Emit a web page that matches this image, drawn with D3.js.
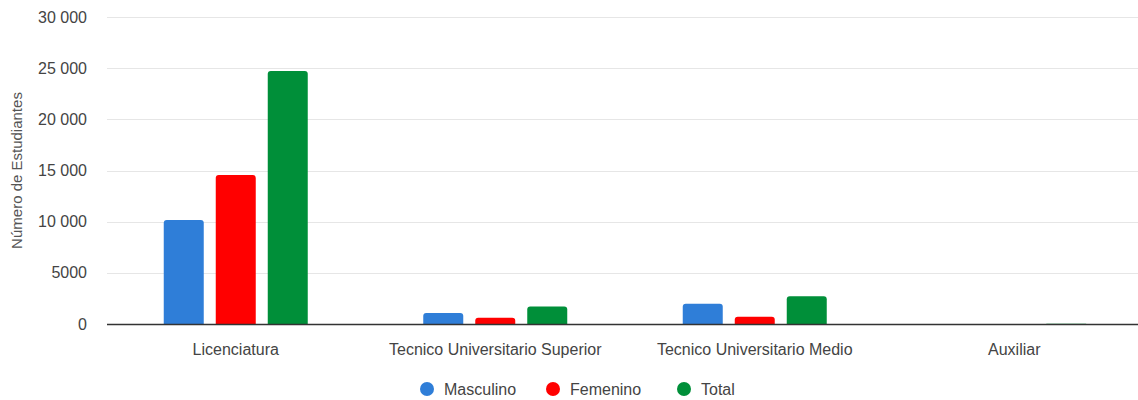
<!DOCTYPE html>
<html>
<head>
<meta charset="utf-8">
<script src="https://cdn.jsdelivr.net/npm/d3@7"></script>
<style>
  html, body { margin: 0; padding: 0; background: #fff; }
  svg { display: block; font-family: "Liberation Sans", Arial, sans-serif; }
</style>
</head>
<body>
<svg id="chart" width="1138" height="400"></svg>
<script>
const categories = ["Licenciatura", "Tecnico Universitario Superior", "Tecnico Universitario Medio", "Auxiliar"];
const seriesNames = ["Masculino", "Femenino", "Total"];
const masculino = [10160, 1080, 1980, 12];
const femenino = [14560, 600, 700, 6];
const total = [24720, 1700, 2720, 18];
const colors = ["#2f7ed8", "#ff0000", "#008f39"];
const yTicks = [0, 5000, 10000, 15000, 20000, 25000, 30000];
const yTitle = "Número de Estudiantes";

const seriesValues = [masculino, femenino, total];
const svg = d3.select("#chart");
const W = 1138, H = 400;
const plotLeft = 107, plotTop = 17, plotBottom = 324;

const x0 = d3.scaleBand().domain(categories).range([106, 1144]).padding(0);
const groupW = 144;
const x1 = d3.scaleBand().domain(seriesNames).range([0, groupW]).paddingInner(12 / 52).paddingOuter(0);
const y = d3.scaleLinear().domain([0, 30000]).range([plotBottom, plotTop]);

const fmt = v => v >= 10000 ? d3.format(",")(v).replace(/,/g, " ") : String(v);

// gridlines
svg.append("g")
  .selectAll("line")
  .data(yTicks.filter(t => t !== 0))
  .join("line")
  .attr("x1", plotLeft).attr("x2", W)
  .attr("y1", d => Math.round(y(d)) + 0.5).attr("y2", d => Math.round(y(d)) + 0.5)
  .attr("stroke", "#e6e6e6").attr("stroke-width", 1);

// y tick labels via axis
const yAxis = d3.axisLeft(y).tickValues(yTicks).tickFormat(fmt).tickSize(0).tickPadding(20);
const yg = svg.append("g").attr("transform", `translate(${plotLeft},0)`).call(yAxis);
yg.select(".domain").remove();
yg.selectAll("text").attr("font-size", 16).attr("fill", "#444").attr("font-family", "Liberation Sans, Arial, sans-serif");

// y title
svg.append("text")
  .attr("transform", `translate(22,${(plotTop + plotBottom) / 2}) rotate(-90)`)
  .attr("text-anchor", "middle")
  .attr("font-size", 15)
  .attr("fill", "#555")
  .text(yTitle);

// bars
function topRounded(x, yTop, w, h, r) {
  r = Math.min(r, h, w / 2);
  if (h <= 0) return "";
  return `M${x},${yTop + h}V${yTop + r}Q${x},${yTop} ${x + r},${yTop}H${x + w - r}Q${x + w},${yTop} ${x + w},${yTop + r}V${yTop + h}Z`;
}

const groups = svg.append("g").selectAll("g")
  .data(categories)
  .join("g")
  .attr("transform", d => `translate(${x0(d) + (x0.bandwidth() - groupW) / 2},0)`);

groups.selectAll("path")
  .data((d, i) => seriesNames.map((s, j) => ({ s, j, v: seriesValues[j][i] })))
  .join("path")
  .attr("d", d => topRounded(x1(d.s), y(d.v), x1.bandwidth(), plotBottom - y(d.v), 3))
  .attr("fill", d => colors[d.j]);

// x axis
const xAxis = d3.axisBottom(x0).tickSize(0).tickPadding(20);
const xg = svg.append("g").attr("transform", `translate(0,${plotBottom})`).call(xAxis);
xg.select(".domain").remove();
xg.selectAll("text").attr("font-size", 16).attr("fill", "#444").attr("font-family", "Liberation Sans, Arial, sans-serif");
svg.append("line")
  .attr("x1", plotLeft).attr("x2", W)
  .attr("y1", plotBottom + 0.5).attr("y2", plotBottom + 0.5)
  .attr("stroke", "#333").attr("stroke-width", 1.5);

// legend
const legendX = [427, 553, 684];
const lg = svg.append("g").selectAll("g")
  .data(seriesNames)
  .join("g")
  .attr("transform", (d, i) => `translate(${legendX[i]},389)`);
lg.append("circle").attr("r", 7).attr("fill", (d, i) => colors[i]);
lg.append("text").attr("x", 17).attr("dy", "0.35em")
  .attr("font-size", 16).attr("fill", "#444").text(d => d);
</script>
</body>
</html>
